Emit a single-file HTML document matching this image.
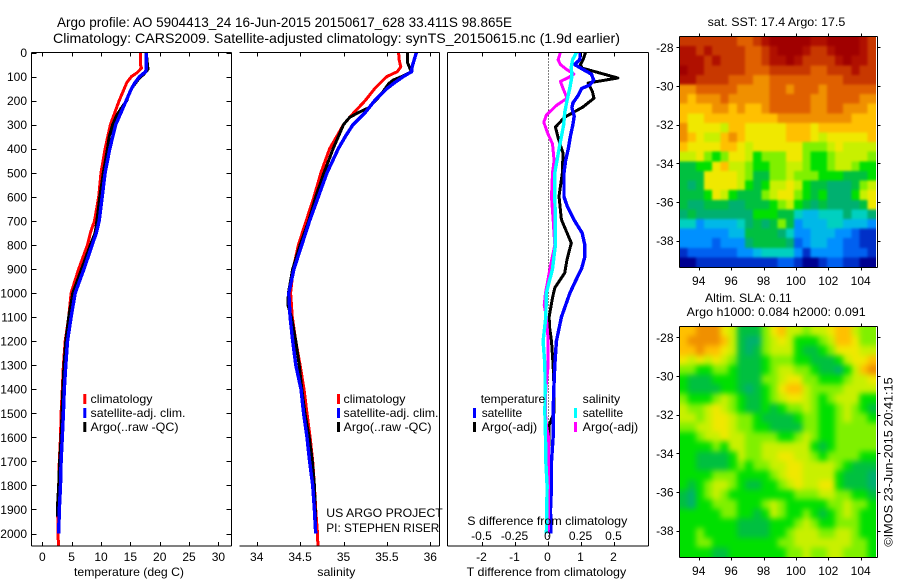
<!DOCTYPE html>
<html>
<head>
<meta charset="utf-8">
<title>Argo profile</title>
<style>
html,body{margin:0;padding:0;background:#fff;width:900px;height:580px;overflow:hidden}
svg{display:block}
text{font-family:"Liberation Sans",sans-serif;font-size:12px;fill:#000}
</style>
</head>
<body>
<svg id="chart" xmlns="http://www.w3.org/2000/svg" width="900" height="580" viewBox="0 0 900 580">
  <defs>
    <filter id="soft-sst" filterUnits="userSpaceOnUse" x="640" y="0" width="260" height="300" color-interpolation-filters="sRGB"><feGaussianBlur stdDeviation="1.2"/></filter>
    <filter id="soft-sla" filterUnits="userSpaceOnUse" x="640" y="290" width="260" height="290" color-interpolation-filters="sRGB"><feGaussianBlur stdDeviation="3"/></filter>
    <clipPath id="clip-sst"><rect x="679.5" y="36.5" width="196.5" height="231"/></clipPath>
    <clipPath id="clip-sla"><rect x="679.5" y="326.5" width="196.5" height="231"/></clipPath>
  </defs>
  <rect x="0" y="0" width="900" height="580" fill="#fff"/>
  <text x="57" y="27" font-size="14" style="font-size:14px" textLength="455" lengthAdjust="spacingAndGlyphs">Argo profile: AO 5904413_24 16-Jun-2015 20150617_628 33.411S 98.865E</text>
  <text x="53" y="43" font-size="14" style="font-size:14px" textLength="567" lengthAdjust="spacingAndGlyphs">Climatology: CARS2009. Satellite-adjusted climatology: synTS_20150615.nc (1.9d earlier)</text>

  <g id="plots"></g>
  <g id="maps"></g>

  <text x="74" y="576" textLength="110" lengthAdjust="spacingAndGlyphs">temperature (deg C)</text>
  <text x="317.3" y="576" textLength="38" lengthAdjust="spacingAndGlyphs">salinity</text>
  <text x="466.7" y="576" textLength="159.5" lengthAdjust="spacingAndGlyphs">T difference from climatology</text>
  <text x="467.3" y="525" textLength="160" lengthAdjust="spacingAndGlyphs">S difference from climatology</text>

  <g>
    <rect x="83.3" y="394" width="3" height="10" fill="#f00"/>
    <text x="90.5" y="403" textLength="62" lengthAdjust="spacingAndGlyphs">climatology</text>
    <rect x="83.3" y="408" width="3" height="10" fill="#00f"/>
    <text x="90.5" y="417" textLength="95" lengthAdjust="spacingAndGlyphs">satellite-adj. clim.</text>
    <rect x="83.3" y="422" width="3" height="10" fill="#000"/>
    <text x="90.5" y="431" textLength="88" lengthAdjust="spacingAndGlyphs">Argo(..raw -QC)</text>
  </g>
  <g>
    <rect x="337" y="394" width="3" height="10" fill="#f00"/>
    <text x="343.5" y="403" textLength="62" lengthAdjust="spacingAndGlyphs">climatology</text>
    <rect x="337" y="408" width="3" height="10" fill="#00f"/>
    <text x="343.5" y="417" textLength="95" lengthAdjust="spacingAndGlyphs">satellite-adj. clim.</text>
    <rect x="337" y="422" width="3" height="10" fill="#000"/>
    <text x="343.5" y="431" textLength="88" lengthAdjust="spacingAndGlyphs">Argo(..raw -QC)</text>
  </g>
  <g>
    <text x="480.7" y="403" textLength="64.5" lengthAdjust="spacingAndGlyphs">temperature</text>
    <rect x="473" y="408" width="3" height="10" fill="#00f"/>
    <text x="481.7" y="417" textLength="40.5" lengthAdjust="spacingAndGlyphs">satellite</text>
    <rect x="473" y="422" width="3" height="10" fill="#000"/>
    <text x="481.7" y="431" textLength="55.5" lengthAdjust="spacingAndGlyphs">Argo(-adj)</text>
    <text x="582.7" y="403" textLength="37.5" lengthAdjust="spacingAndGlyphs">salinity</text>
    <rect x="574" y="408" width="3" height="10" fill="#0ff"/>
    <text x="582.7" y="417" textLength="40.5" lengthAdjust="spacingAndGlyphs">satellite</text>
    <rect x="574" y="422" width="3" height="10" fill="#f0f"/>
    <text x="582.7" y="431" textLength="55.5" lengthAdjust="spacingAndGlyphs">Argo(-adj)</text>
  </g>

  <text x="326.3" y="517" textLength="116.5" lengthAdjust="spacingAndGlyphs">US ARGO PROJECT</text>
  <text x="326.3" y="532" textLength="113" lengthAdjust="spacingAndGlyphs">PI: STEPHEN RISER</text>

  <text x="707.7" y="26" textLength="137.6" lengthAdjust="spacingAndGlyphs">sat. SST: 17.4 Argo: 17.5</text>
  <text x="705" y="302" textLength="86.7" lengthAdjust="spacingAndGlyphs">Altim. SLA: 0.11</text>
  <text x="686.7" y="316" textLength="179" lengthAdjust="spacingAndGlyphs">Argo h1000: 0.084 h2000: 0.091</text>
  <text transform="translate(892.5,546.7) rotate(-90)" x="0" y="0" textLength="169.4" lengthAdjust="spacingAndGlyphs">©IMOS 23-Jun-2015 20:41:15</text>
</svg>

<script>
// depth levels (dbar) for each profile
const tempClimDepth = [0,50,65,85,100,125,200,260,300,400,500,600,700,750,800,900,1000,1100,1200,1300,1400,1500,1600,1700,1800,1900,2000,2050];
const tempClim = [16.7,16.7,16.9,16.1,15.2,14.4,13.1,12.2,11.6,10.7,10.0,9.6,8.9,8.2,7.7,6.2,4.9,4.5,3.9,3.6,3.4,3.2,3.1,2.9,2.8,2.6,2.7,2.75];
const tempSatDepth = [0,70,80,100,125,150,200,250,300,400,500,600,700,750,800,900,1000,1100,1200,1300,1400,1500,1600,1700,1800,1900,2000];
const tempSat = [17.7,17.7,17.6,16.6,15.8,15.2,14.3,13.4,12.5,11.5,10.7,10.2,9.7,9.2,8.5,7.1,5.6,4.9,4.3,4.0,3.75,3.6,3.4,3.2,3.1,2.9,2.8];
const tempArgoDepth = [0,70,90,110,150,170,200,230,260,300,350,400,500,600,700,750,800,900,1000,1100,1200,1300,1400,1500,1600,1700,1800,1900,1930];
const tempArgo = [17.7,18.0,17.3,16.4,15.2,14.8,14.4,13.5,12.7,12.0,11.4,11.1,10.4,9.8,9.3,9.0,8.2,6.7,5.2,4.5,4.0,3.7,3.5,3.35,3.2,2.95,2.8,2.55,2.55];

const salClimDepth = [0,30,60,80,100,150,200,250,300,350,400,500,600,700,800,900,1000,1100,1200,1300,1400,1500,1600,1700,1800,1900,2000,2050];
const salClim = [35.635,35.64,35.66,35.62,35.5,35.36,35.25,35.12,35.0,34.92,34.84,34.74,34.66,34.57,34.48,34.42,34.39,34.41,34.45,34.5,34.545,34.58,34.615,34.645,34.665,34.68,34.7,34.705];
const salSatDepth = [0,30,60,80,100,125,150,200,250,300,350,400,500,600,700,800,900,1000,1100,1200,1300,1400,1500,1600,1700,1800,1900,2000];
const salSat = [35.84,35.815,35.79,35.785,35.69,35.59,35.5,35.36,35.25,35.11,35.02,34.94,34.81,34.71,34.61,34.52,34.43,34.37,34.385,34.415,34.45,34.51,34.54,34.58,34.61,34.645,34.665,34.68];
const salArgoDepth = [0,40,70,80,100,115,130,180,230,250,270,300,350,400,500,600,700,800,900,1000,1050,1100,1200,1300,1400,1500,1600,1700,1800,1900,1950];
const salArgo = [35.735,35.735,35.77,35.785,35.67,35.57,35.52,35.42,35.29,35.17,35.07,35.0,34.94,34.88,34.775,34.68,34.6,34.5,34.415,34.365,34.36,34.4,34.45,34.49,34.52,34.555,34.605,34.64,34.665,34.675,34.68];

const dTSatDepth = [0,30,50,70,90,115,135,150,180,210,230,265,300,350,400,450,500,600,640,700,750,800,850,900,950,1000,1100,1200,1300,1400,1500,1600,1700,1800,1900,2000];
const dTSat = [1.0,0.98,0.82,1.07,1.33,1.4,1.28,1.03,0.92,0.77,0.74,0.81,0.77,0.69,0.63,0.55,0.5,0.5,0.6,0.82,1.05,1.13,1.13,1.03,0.85,0.68,0.42,0.27,0.22,0.19,0.17,0.17,0.12,0.12,0.09,0.1];
const dTArgoDepth = [0,30,50,65,106,127,162,190,227,269,310,363,418,500,598,695,792,861,917,979,1020,1100,1150,1200,1300,1400,1500,1550,1600,1700,1800,1900,1950];
const dTArgo = [1.15,1.08,1.0,1.05,2.13,1.23,1.36,1.41,1.07,0.52,0.24,0.34,0.47,0.45,0.35,0.42,0.72,0.59,0.52,0.22,0.15,0.05,0.07,0.12,0.17,0.2,0.19,0.05,0.05,0.02,0.02,-0.01,-0.01];
const dSSatDepth = [0,30,60,100,150,200,250,300,400,500,600,700,800,900,1000,1100,1200,1300,1400,1500,1600,1700,1800,1900,2000];
const dSSat = [0.22,0.19,0.18,0.185,0.168,0.148,0.13,0.123,0.088,0.055,0.055,0.06,0.06,0.038,-0.008,-0.013,-0.033,-0.02,-0.018,-0.02,-0.015,-0.013,-0.003,-0.005,-0.008];
const dSArgoDepth = [0,30,50,70,90,105,120,150,190,220,260,290,330,380,450,500,600,700,800,900,1000,1050,1100,1200,1300,1400,1500,1550,1600,1700,1800,1900,2000];
const dSArgo = [0.098,0.08,0.098,0.143,0.2,0.155,0.098,0.118,0.148,0.068,-0.008,-0.028,-0.003,0.038,0.05,0.038,0.03,0.043,0.055,0.018,-0.015,-0.025,-0.008,0.005,0.005,-0.013,-0.015,-0.008,0.008,0.008,0.008,0.008,0.005];

// axis tick values and labels
const depthTicks = [0,100,200,300,400,500,600,700,800,900,1000,1100,1200,1300,1400,1500,1600,1700,1800,1900,2000];
const tempTicks = [0,5,10,15,20,25,30];
const salTicks = [34,34.5,35,35.5,36];
const dTTicks = [-2,-1,0,1,2];
const dSTicks = [-0.5,-0.25,0,0.25,0.5];
const lonTicks = [94,96,98,100,102,104];
const latTicks = [-28,-30,-32,-34,-36,-38];

// colour levels of the two maps (low to high)
const levelColors = ['#000090','#0030c8','#0060f0','#0090ff','#00b8e8','#00d0c0','#00b070','#00c040','#00e000','#80f000','#c8f000','#f0e800','#ffc000','#f09000','#e06000','#c83800','#b01000','#a00000'];

const sstRows = [
[15,15,15,15,15,15,15,14,14,15,16,17,17,17,17,17,16,16,17,17,17,17,16,15],
[16,16,15,16,15,15,15,15,14,14,15,16,17,17,17,16,15,15,16,17,17,17,16,15],
[16,16,16,15,16,15,15,15,14,14,15,16,16,17,16,15,15,15,15,16,17,16,16,15],
[17,16,16,15,15,15,15,15,14,14,14,15,15,15,15,15,14,14,15,15,15,16,15,15],
[16,16,15,15,15,15,14,14,14,13,13,14,14,14,14,14,14,14,14,14,15,15,15,15],
[13,13,14,14,14,14,14,13,13,13,13,14,14,13,14,14,14,13,14,14,14,14,14,14],
[13,12,13,13,13,14,13,13,13,13,13,14,14,14,14,14,13,13,14,14,14,14,13,13],
[12,12,12,12,13,13,12,13,12,12,13,14,14,14,14,14,13,13,14,14,13,13,13,12],
[12,11,11,12,12,12,12,12,12,12,12,12,13,13,13,13,13,13,13,13,13,12,12,12],
[13,11,11,11,11,10,12,12,11,11,11,11,11,12,12,12,11,12,12,12,12,12,12,12],
[13,12,11,10,10,12,13,12,11,11,11,11,11,12,12,12,11,10,11,11,11,11,11,12],
[12,11,11,11,11,12,12,11,10,11,11,11,11,11,11,9,9,9,10,11,10,10,10,10],
[10,10,11,9,8,9,11,11,10,8,9,9,9,11,11,9,8,8,9,10,10,10,10,9],
[7,7,8,8,11,12,10,10,9,8,8,9,9,10,10,9,8,8,9,10,10,9,8,8],
[7,7,7,11,11,11,11,10,9,7,7,9,9,10,9,9,9,8,8,8,7,7,7,8],
[7,6,7,11,11,11,11,10,8,7,8,10,10,11,10,8,7,7,6,6,6,7,9,10],
[7,7,7,8,11,10,8,7,7,7,9,10,11,11,9,8,7,8,6,6,6,8,10,11],
[7,6,6,7,7,7,6,6,7,7,7,8,9,10,8,7,6,7,6,6,6,6,7,11],
[6,7,6,6,6,6,6,6,6,8,8,8,7,7,5,4,4,5,5,5,6,5,5,6],
[5,5,3,4,4,4,4,5,6,7,6,7,9,7,3,4,4,4,5,5,4,4,4,3],
[3,3,3,3,3,3,4,4,7,7,7,7,6,5,3,3,4,4,4,3,3,2,1,1],
[3,3,3,3,2,3,3,3,6,7,7,7,7,6,2,3,4,4,3,3,2,2,1,1],
[1,2,2,2,2,2,2,3,3,4,5,5,5,5,3,1,3,3,3,3,2,2,2,1],
[0,0,1,1,1,1,1,1,1,1,1,1,2,2,1,0,0,1,2,2,1,1,0,0]
];

const slaRows = [
[12,12,13,13,13,11,10,7,7,7,9,11,12,10,10,9,10,10,11,12,12,10,9,9],
[12,13,13,13,13,12,10,7,6,6,9,10,11,10,8,8,8,9,10,12,12,11,9,9],
[12,12,13,12,12,11,10,7,6,7,9,10,10,10,8,7,7,8,9,11,11,11,10,10],
[11,10,11,10,11,10,9,7,7,7,8,9,9,9,8,8,7,7,7,8,10,11,11,12],
[9,9,8,8,9,9,8,7,7,7,8,9,10,10,9,9,8,7,7,6,8,10,12,13],
[8,7,7,7,8,8,8,7,7,7,9,9,10,11,11,9,9,8,8,8,9,10,10,11],
[8,7,7,7,7,8,8,7,6,7,8,9,11,12,12,10,9,9,9,9,10,10,10,10],
[9,8,8,8,9,10,9,8,7,7,8,9,10,11,11,10,9,8,9,10,10,10,8,8],
[10,9,9,10,11,10,9,8,7,7,8,7,8,9,9,10,9,8,8,9,10,9,8,7],
[10,10,9,10,11,11,10,9,9,8,7,7,7,7,8,9,9,8,8,9,10,9,9,8],
[9,9,10,10,11,11,10,9,9,8,8,7,7,7,7,9,9,8,8,9,9,9,9,9],
[8,8,9,10,10,11,10,10,9,9,9,9,8,8,9,10,9,8,8,9,9,9,9,9],
[8,8,8,8,9,8,10,10,9,9,10,10,10,10,10,10,8,7,8,9,9,9,9,9],
[8,8,7,7,7,7,8,10,9,9,10,10,11,11,10,10,9,8,9,9,9,9,8,8],
[8,8,7,7,7,7,8,9,8,9,9,10,10,11,11,10,10,10,10,9,8,7,7,7],
[8,8,8,8,9,9,9,8,8,8,8,9,10,11,11,10,10,10,10,8,7,7,7,6],
[8,7,8,9,10,10,9,8,7,7,8,8,9,10,11,10,10,11,11,8,7,7,7,6],
[7,6,8,9,10,9,8,8,8,8,8,8,8,8,9,9,9,10,10,9,9,8,8,7],
[7,6,8,8,9,9,9,8,8,8,9,10,9,8,8,8,8,8,9,9,10,9,9,8],
[8,8,8,8,8,9,9,8,8,7,8,10,9,8,8,9,8,7,8,9,10,9,8,8],
[8,8,8,8,8,8,8,7,7,7,7,8,8,8,9,10,9,8,8,9,9,9,8,8],
[8,8,9,8,8,8,8,7,7,7,7,8,8,9,10,10,10,9,9,10,10,9,8,8],
[8,8,9,9,8,8,8,8,8,8,8,8,9,9,10,10,10,10,10,10,10,9,9,8],
[8,8,8,8,7,7,8,8,8,8,8,8,8,9,9,10,9,9,10,10,9,9,9,8]
];

const NS = 'http://www.w3.org/2000/svg';
const plotsGroup = document.getElementById('plots');
const mapsGroup = document.getElementById('maps');

function add(parent, tag, attrs, content) {
  const node = document.createElementNS(NS, tag);
  for (const key in attrs) node.setAttribute(key, attrs[key]);
  if (content !== undefined) node.textContent = content;
  parent.appendChild(node);
  return node;
}

// shared depth axis
const depthY = d => 52.5 + d * 0.2405;
const PLOT_TOP = 52.5;
const PLOT_BOTTOM = 546;

// horizontal axis functions
const tempX = v => 42.3 + v * 5.87;
const salX = v => 256.7 + (v - 34) * 86.8;
const dTX = v => 547.5 + v * 33.0;
const dSX = v => 547.5 + v * 132.0;

function drawLine(parent, depths, values, xFn, color, width, name) {
  const pts = depths.map((d, i) => xFn(values[i]).toFixed(1) + ',' + depthY(d).toFixed(1)).join(' ');
  const el = add(parent, 'polyline', {points: pts, fill: 'none', stroke: color, 'stroke-width': width, 'stroke-linejoin': 'round', 'shape-rendering': 'crispEdges'});
  
  
}

function vLine(parent, x, y1, y2, name) {
  const el = add(parent, 'line', {x1: x, x2: x, y1: y1, y2: y2, stroke: '#000', 'stroke-width': 1, 'shape-rendering': 'crispEdges'});
  
  
}

function hLine(parent, x1, x2, y, name) {
  const el = add(parent, 'line', {x1: x1, x2: x2, y1: y, y2: y, stroke: '#000', 'stroke-width': 1, 'shape-rendering': 'crispEdges'});
  
  
}

function tickLabel(parent, x, y, anchor, value, name) {
  const el = add(parent, 'text', {x: x, y: y, 'text-anchor': anchor}, String(value));
  
  
}

function frame(parent, x1, x2, hasLeft) {
  hLine(parent, x1, x2, PLOT_TOP, 'top-axis-line');
  hLine(parent, x1, x2, PLOT_BOTTOM, 'bottom-axis-line');
  if (hasLeft) vLine(parent, x1, PLOT_TOP, PLOT_BOTTOM, 'left-axis-line');
  vLine(parent, x2, PLOT_TOP, PLOT_BOTTOM, 'right-axis-line');
}

function xTicks(parent, ticks, xFn, labelY) {
  ticks.forEach(t => {
    const px = Math.round(xFn(t)) + 0.5;
    vLine(parent, px, PLOT_TOP, PLOT_TOP + 4, 'top-tick');
    vLine(parent, px, PLOT_BOTTOM - 4, PLOT_BOTTOM, 'bottom-tick');
    tickLabel(parent, xFn(t), labelY, 'middle', t, 'x-tick-label');
  });
}

// panel 1: temperature
const p1 = add(plotsGroup, 'g', {});


drawLine(p1, tempClimDepth, tempClim, tempX, '#f00', 3, 'temperature-climatology-line');
drawLine(p1, tempArgoDepth, tempArgo, tempX, '#000', 3, 'temperature-argo-line');
drawLine(p1, tempSatDepth, tempSat, tempX, '#00f', 3.4, 'temperature-satellite-line');
frame(p1, 31.5, 231.5, true);
xTicks(p1, tempTicks, tempX, 561);
depthTicks.forEach(d => {
  const py = Math.round(depthY(d)) + 0.5;
  hLine(p1, 31.5, 36.5, py, 'left-depth-tick');
  hLine(p1, 226.5, 231.5, py, 'right-depth-tick');
  tickLabel(p1, 27, depthY(d) + 4.5, 'end', d, 'depth-tick-label');
});

// panel 2: salinity
const p2 = add(plotsGroup, 'g', {});


drawLine(p2, salClimDepth, salClim, salX, '#f00', 3, 'salinity-climatology-line');
drawLine(p2, salArgoDepth, salArgo, salX, '#000', 3, 'salinity-argo-line');
drawLine(p2, salSatDepth, salSat, salX, '#00f', 3.4, 'salinity-satellite-line');
frame(p2, 239.5, 439.5, false);
xTicks(p2, salTicks, salX, 561);

// panel 3: differences
const p3 = add(plotsGroup, 'g', {});


const zeroLine = add(p3, 'line', {x1: 548.5, x2: 548.5, y1: PLOT_TOP, y2: PLOT_BOTTOM, stroke: '#000', 'stroke-width': 1, 'stroke-dasharray': '1 2', 'shape-rendering': 'crispEdges'});


drawLine(p3, dTArgoDepth, dTArgo, dTX, '#000', 3, 'temperature-argo-difference-line');
drawLine(p3, dTSatDepth, dTSat, dTX, '#00f', 3.4, 'temperature-satellite-difference-line');
drawLine(p3, dSArgoDepth, dSArgo, dSX, '#f0f', 3, 'salinity-argo-difference-line');
drawLine(p3, dSSatDepth, dSSat, dSX, '#0ff', 3.4, 'salinity-satellite-difference-line');
frame(p3, 447.5, 648.5, true);
xTicks(p3, dTTicks, dTX, 561);
dSTicks.forEach(t => {
  tickLabel(p3, dSX(t), 540, 'middle', t, 's-difference-tick-label');
});

// maps
const lonX = v => 698.7 + (v - 94) * 16.2;
const latY = (v, off) => off + 47.3 + (-28 - v) * 19.34;
const LON_MIN = 92.815, LON_MAX = 104.94, LAT_MAX = -27.44, LAT_MIN = -39.36;
const EDGE_BLEED = 14;

function drawMap(rows, off, name, softId, clipId) {
  const g = add(mapsGroup, 'g', {});
  
  
  const clipped = add(g, 'g', {'clip-path': 'url(#' + clipId + ')'});
  
  
  const soft = add(clipped, 'g', {filter: 'url(#' + softId + ')'});
  
  
  const nr = rows.length, nc = rows[0].length;
  rows.forEach((row, r) => {
    const latTop = LAT_MAX + (LAT_MIN - LAT_MAX) * r / nr;
    const latBot = LAT_MAX + (LAT_MIN - LAT_MAX) * (r + 1) / nr;
    row.forEach((lev, c) => {
      const lon0 = LON_MIN + (LON_MAX - LON_MIN) * c / nc;
      const lon1 = LON_MIN + (LON_MAX - LON_MIN) * (c + 1) / nc;
      let x0 = lonX(lon0), x1 = lonX(lon1), y0 = latY(latTop, off), y1 = latY(latBot, off);
      if (c === 0) x0 -= EDGE_BLEED;
      if (c === nc - 1) x1 += EDGE_BLEED;
      if (r === 0) y0 -= EDGE_BLEED;
      if (r === nr - 1) y1 += EDGE_BLEED;
      const cell = add(soft, 'rect', {x: x0.toFixed(2), y: y0.toFixed(2), width: (x1 - x0 + 0.4).toFixed(2), height: (y1 - y0 + 0.4).toFixed(2), fill: levelColors[lev], 'shape-rendering': 'crispEdges'});
      
      
    });
  });
  const left = 679.5, right = 877.5, top = off + 36.5, bottom = off + 267.5;
  hLine(g, left, right, top, 'map-top-border');
  hLine(g, left, right, bottom, 'map-bottom-border');
  vLine(g, left, top, bottom, 'map-left-border');
  vLine(g, right, top, bottom, 'map-right-border');
  lonTicks.forEach(t => {
    const px = Math.round(lonX(t)) + 0.5;
    vLine(g, px, top - 3, top, 'map-top-tick');
    vLine(g, px, bottom, bottom + 3, 'map-bottom-tick');
    tickLabel(g, lonX(t), off + 285, 'middle', t, 'longitude-tick-label');
  });
  latTicks.forEach(t => {
    const py = Math.round(latY(t, off)) + 0.5;
    hLine(g, left - 3, left, py, 'map-left-tick');
    hLine(g, right, right + 3, py, 'map-right-tick');
    tickLabel(g, 673.5, latY(t, off) + 4.5, 'end', t, 'latitude-tick-label');
  });
}

drawMap(sstRows, 0, 'sst-map', 'soft-sst', 'clip-sst');
drawMap(slaRows, 290, 'sla-map', 'soft-sla', 'clip-sla');
</script>
</body>
</html>
